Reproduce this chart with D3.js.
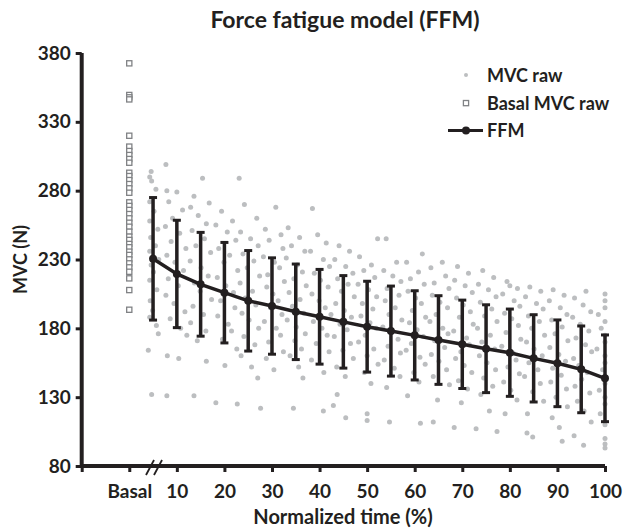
<!DOCTYPE html>
<html><head><meta charset="utf-8">
<script src="https://cdn.jsdelivr.net/npm/d3@7"></script>
<style>
html,body{margin:0;padding:0;background:#fff;}
svg{display:block;}
text{font-family:Lato,"Open Sans",sans-serif;font-weight:bold;fill:#231f20;}
</style></head>
<body>
<svg id="chart" width="623" height="531"></svg>
<script>
// ---- data ----
const title = "Force fatigue model (FFM)";
const yTicks = [80,130,180,230,280,330,380];
const xTicks = [-10,0,10,20,30,40,50,60,70,80,90,100];
const xTickLabels = {0:"Basal",10:"10",20:"20",30:"30",40:"40",50:"50",60:"60",70:"70",80:"80",90:"90",100:"100"};
const ffmTime = [5,10,15,20,25,30,35,40,45,50,55,60,65,70,75,80,85,90,95,100];
const ffmMean = [230.5,219.5,212,205.9,200,196.2,192,188.4,184.7,181.2,178,174.9,171.5,168.4,165.2,162.3,158.2,154.6,150.2,143.7];
const ffmSD = [44.5,39,37.7,36.5,36.5,35,34.7,34.4,33.6,33,32.7,32.4,32.2,32.1,31.9,31.7,31.7,31.5,31.5,31.5];
const basalMVC = [372.5,349.5,347.8,346.3,319.9,312,308.8,305.9,303,300.3,293,290.6,287.7,284.8,281.7,278.5,271.5,268.9,266,263,259.9,256.7,253.8,250.2,246.6,244.2,241.3,238.9,235.7,233.3,230.1,227.2,224.3,221.1,216.3,207.8,193.5];
const mvcRawTime = [
 4.6,4.3,4.7,5.6,4.3,5.2,4.3,6.0,4.5,5.5,4.3,6.2,4.6,5.1,4.3,5.8,4.4,4.9,4.3,5.7,6.1,4.0,4.7,
 7.7,7.9,10.0,8.3,11.2,9.1,7.6,10.6,8.8,11.9,7.9,9.6,11.4,8.2,10.3,7.7,9.4,11.7,8.6,10.8,12.1,8.0,10.4,7.9,
 15.4,13.6,16.8,12.9,14.5,16.2,13.2,15.8,14.0,17.1,12.8,15.1,16.6,13.7,14.9,17.3,13.4,15.6,12.9,16.1,14.3,16.2,13.6,
 23.1,19.4,21.7,18.2,20.6,22.4,18.8,21.1,19.9,22.8,18.5,20.3,21.9,19.2,22.2,18.6,20.8,21.5,19.6,22.6,20.1,18.2,
 24.2,26.8,23.4,25.5,27.1,23.9,26.2,24.8,27.4,23.3,25.9,24.4,26.6,23.7,25.2,27.2,24.1,26.4,23.5,25.7,22.7,27.0,
 30.8,28.6,31.9,29.4,32.3,28.2,30.5,31.6,29.1,32.6,28.9,30.2,31.3,29.7,32.1,28.4,30.9,31.8,29.3,32.4,28.8,30.4,27.6,
 33.4,35.8,34.1,36.9,33.0,35.3,36.4,34.6,37.2,33.6,35.9,34.3,36.7,33.2,35.1,37.0,34.8,36.2,33.8,35.6,36.5,34.5,
 38.5,39.6,41.4,38.1,40.8,42.1,38.9,40.2,41.8,38.4,39.9,41.2,42.4,38.7,40.5,41.6,39.3,42.0,38.3,40.9,43.7,40.8,
 44.1,46.3,43.2,45.5,47.0,43.8,46.0,44.6,47.3,43.4,45.2,46.7,44.3,45.8,43.1,46.5,44.9,47.1,43.6,45.4,42.9,45.5,
 52.2,48.4,50.9,49.3,51.6,48.1,50.3,52.0,49.0,51.2,48.7,50.6,51.9,49.6,48.2,51.4,50.0,52.3,49.4,50.8,50.0,50.0,
 54.0,56.2,53.5,55.4,57.1,54.2,56.7,53.8,55.9,54.6,57.3,53.3,55.1,56.5,54.4,57.0,53.6,55.7,56.9,54.1,54.7,
 61.6,58.3,60.8,59.1,62.0,58.6,60.2,61.4,59.5,62.3,58.9,60.5,61.8,59.3,58.2,61.1,62.2,59.8,60.9,58.5,61.2,
 65.8,63.4,66.5,64.1,67.2,63.7,65.3,66.9,64.5,63.2,65.9,67.0,64.2,66.3,63.5,65.1,66.7,63.9,67.3,64.8,63.9,
 69.0,71.3,68.4,70.6,72.1,68.8,70.2,71.7,69.4,72.3,68.2,70.9,71.5,69.7,68.6,70.4,72.0,69.2,71.1,69.8,68.3,
 74.3,76.6,73.4,75.5,77.1,73.8,76.2,74.7,77.3,73.2,75.9,74.1,76.8,73.6,75.2,77.0,74.5,76.4,73.9,75.7,72.9,
 79.4,80.0,81.6,78.5,80.9,82.1,78.9,80.4,81.8,79.2,82.3,78.3,80.7,81.3,79.6,82.0,78.7,80.2,81.5,79.0,77.3,
 84.2,86.5,83.3,85.6,87.0,83.9,86.2,84.6,87.3,83.5,85.1,86.8,84.0,85.9,83.1,86.4,84.8,87.1,83.7,83.6,84.8,
 89.1,91.4,88.3,90.6,92.0,88.8,91.0,89.5,92.2,88.4,90.3,91.7,89.0,90.8,88.6,91.9,89.7,92.1,88.9,90.4,91.0,
 96.0,93.6,95.4,97.0,93.2,94.8,96.6,93.9,95.9,97.2,93.4,94.5,96.3,95.1,93.7,96.8,94.2,95.6,97.1,93.5,95.5,
 100,100,100,98.6,100,99.2,100,100,98.3,100,100,99.5,100,100,98.8,100,100,99.0,100,100,100,100
];
const mvcRawValue = [
 294,290,287,281,272,265,258,252,246,240,236,230,226,221,215,208,200,193,188,182,176,164,132,
 299,280,279,272,266,260,254,249,243,238,233,228,222,216,211,204,198,192,187,180,175,160,158,131,
 289,276,271,268,262,256,251,245,240,235,229,224,218,213,207,201,196,190,184,178,171,156,131,
 289,265,258,255,250,244,238,233,228,222,217,211,206,200,195,189,183,178,172,165,153,126,
 270,260,250,245,240,234,229,224,218,213,207,202,197,191,186,180,174,168,160,152,125,144,
 268,252,248,244,238,232,228,224,219,214,210,205,200,195,190,185,180,175,170,163,158,150,122,
 253,246,240,236,231,226,221,216,211,206,201,196,191,186,181,176,171,165,160,152,144,122,
 267,248,242,236,230,225,220,215,210,205,200,195,190,185,180,175,169,163,157,148,132,120,
 240,236,230,225,220,216,212,207,203,198,193,188,183,179,174,169,164,158,152,145,124,115,
 245,232,226,222,217,212,208,203,198,194,189,184,180,175,170,165,160,154,148,140,118,113,
 245,228,222,218,214,209,204,200,195,190,186,181,177,172,167,162,157,151,145,137,112,
 234,228,221,216,212,207,202,198,193,188,184,179,174,169,164,159,154,148,141,131,111,
 228,224,218,213,209,204,199,195,190,185,180,176,171,166,161,156,150,145,139,128,112,
 225,220,215,211,206,202,197,192,188,183,178,173,168,163,158,153,148,142,136,126,108,
 222,217,212,208,203,199,194,189,185,180,175,170,165,160,155,150,144,138,132,120,107,
 214,211,209,205,200,196,191,187,182,177,172,167,162,157,152,147,141,135,128,118,105,
 210,207,203,198,194,189,185,180,175,170,165,160,155,150,145,140,134,127,118,104,101,
 208,204,200,195,190,186,181,176,171,166,161,156,151,146,141,136,130,123,115,108,98,
 207,202,197,192,188,183,178,173,168,163,158,153,148,143,138,133,127,120,112,102,95,
 205,200,195,190,185,180,175,170,165,160,155,150,145,140,135,130,125,118,110,100,96,93
];
const legendLabels = ["MVC raw","Basal MVC raw","FFM"];

// ---- chart ----
const dark = "#231f20";
const svg = d3.select("#chart");
const x = d3.scaleLinear().domain([-10,100]).range([81.7,605]);
const y = d3.scaleLinear().domain([80,380]).range([466,53]);

svg.append("text").attr("x",345).attr("y",28).attr("text-anchor","middle")
  .style("font-size","23px").text(title);

// raw dots
svg.append("g").selectAll("circle").data(mvcRawTime.map((t,i)=>[t,mvcRawValue[i]]))
  .join("circle").attr("cx",d=>x(d[0])).attr("cy",d=>y(d[1])).attr("r",2.5).attr("fill","#bcbec0");

// basal squares
svg.append("g").selectAll("rect").data(basalMVC).join("rect")
  .attr("x",x(0)-2.6).attr("y",d=>y(d)-2.6).attr("width",5.2).attr("height",5.2)
  .attr("fill","#fff").attr("stroke","#808285").attr("stroke-width",1.3);

// axes
const yAxis = d3.axisLeft(y).tickValues(yTicks).tickSize(6).tickPadding(5);
const gy = svg.append("g").attr("transform",`translate(${x(-10)},0)`).call(yAxis);
const xAxis = d3.axisBottom(x).tickValues(xTicks).tickSize(6).tickPadding(13)
  .tickFormat(d=>xTickLabels[d]||"");
const gx = svg.append("g").attr("transform",`translate(0,${y(80)})`).call(xAxis);
[gx,gy].forEach(g=>{
  g.select(".domain").attr("stroke",dark).attr("stroke-width",4);
  g.selectAll(".tick line").attr("stroke",dark).attr("stroke-width",3);
  g.selectAll(".tick text").style("font-size","19px").style("font-family","Lato").attr("fill",dark);
});
gx.select(".domain").attr("d",`M${x(-10)},0H${x(100)}`);
gy.select(".domain").attr("d",`M0,${y(80)}V${y(380)}`);

// axis break
const bx = x(5.2);
[-4,4].forEach(o=>{
  svg.append("line").attr("x1",bx+o-4).attr("y1",y(80)+9).attr("x2",bx+o+4).attr("y2",y(80)-6)
   .attr("stroke",dark).attr("stroke-width",1.8);
});

// axis titles
svg.append("text").attr("x",343).attr("y",524).attr("text-anchor","middle").style("font-size","20px").text("Normalized time (%)");
svg.append("text").attr("transform",`translate(27,${y(230)}) rotate(-90)`).attr("text-anchor","middle").style("font-size","18px").text("MVC (N)");

// error bars
const eb = svg.append("g");
ffmTime.forEach((t,i)=>{
  const lo = y(ffmMean[i]-ffmSD[i]), hi = y(ffmMean[i]+ffmSD[i]), cx = x(t);
  eb.append("line").attr("x1",cx).attr("x2",cx).attr("y1",lo).attr("y2",hi).attr("stroke",dark).attr("stroke-width",3.5);
  [lo,hi].forEach(yy=>eb.append("line").attr("x1",cx-4).attr("x2",cx+4).attr("y1",yy).attr("y2",yy).attr("stroke",dark).attr("stroke-width",3));
});
const line = d3.line().x((d,i)=>x(ffmTime[i])).y(d=>y(d));
svg.append("path").datum(ffmMean).attr("d",line).attr("fill","none").attr("stroke",dark).attr("stroke-width",3.5);
svg.append("g").selectAll("circle").data(ffmMean).join("circle")
  .attr("cx",(d,i)=>x(ffmTime[i])).attr("cy",d=>y(d)).attr("r",4).attr("fill",dark);

// legend
const lg = svg.append("g");
lg.append("circle").attr("cx",466).attr("cy",75).attr("r",2).attr("fill","#bcbec0");
lg.append("rect").attr("x",463.4).attr("y",100.5).attr("width",5.2).attr("height",5.2).attr("fill","#fff").attr("stroke","#808285").attr("stroke-width",1.3);
lg.append("line").attr("x1",448).attr("x2",483).attr("y1",130.5).attr("y2",130.5).attr("stroke",dark).attr("stroke-width",3);
lg.append("circle").attr("cx",466).attr("cy",130.5).attr("r",4).attr("fill",dark);
legendLabels.forEach((l,i)=>{
  lg.append("text").attr("x",487).attr("y",82+i*27.5).style("font-size","18px").text(l);
});
</script>
</body></html>
